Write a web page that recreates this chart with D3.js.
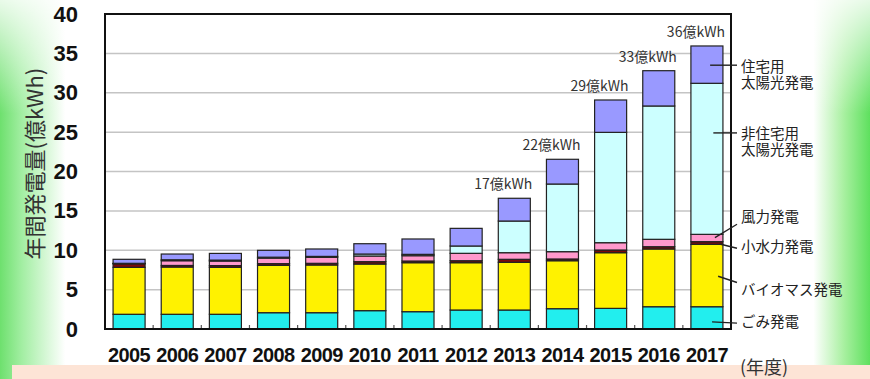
<!DOCTYPE html>
<html lang="ja">
<head>
<meta charset="utf-8">
<script src="https://cdn.jsdelivr.net/npm/d3@7"></script>
<style>
  body { margin: 0; background: #fff; }
  svg { display: block; font-family: "Liberation Sans", Arial, sans-serif; }
  .jp { font-family: "Noto Sans CJK JP", sans-serif; }
</style>
</head>
<body>
<div id="chart"></div>
<script>
// data (億kWh)
const years = ["2005","2006","2007","2008","2009","2010","2011","2012","2013","2014","2015","2016","2017"];
const gomi   = [1.87, 1.87, 1.87, 2.07, 2.07, 2.33, 2.20, 2.41, 2.41, 2.58, 2.62, 2.83, 2.83];
const bio    = [5.96, 6.00, 5.96, 6.01, 6.06, 5.92, 6.22, 6.01, 6.06, 6.09, 7.07, 7.33, 7.92];
const hydro  = [0.45, 0.20, 0.22, 0.22, 0.21, 0.30, 0.21, 0.25, 0.38, 0.22, 0.34, 0.29, 0.34];
const wind   = [0.03, 0.60, 0.58, 0.70, 0.76, 0.72, 0.68, 0.94, 0.84, 0.93, 0.93, 0.94, 0.93];
const nonres = [0.03, 0.12, 0.12, 0.12, 0.12, 0.25, 0.17, 0.93, 4.02, 8.59, 14.01, 16.93, 19.18];
const res    = [0.51, 0.73, 0.85, 0.87, 0.94, 1.31, 1.95, 2.24, 2.89, 3.14, 4.11, 4.48, 4.74];
const totalLabels = [null, null, null, null, null, null, null, null, 17, 22, 29, 33, 36];
const yTicks = [0, 5, 10, 15, 20, 25, 30, 35, 40];

const seriesKeys = ["gomi", "bio", "hydro", "wind", "nonres", "res"];
const seriesNames = [["ごみ発電"], ["バイオマス発電"], ["小水力発電"], ["風力発電"], ["非住宅用", "太陽光発電"], ["住宅用", "太陽光発電"]];
const seriesColors = ["#22eeee", "#fff200", "#7a0a0a", "#ff99cc", "#ccffff", "#9999ff"];

const width = 870,
  height = 379,
  margin = { top: 14, right: 139, bottom: 50, left: 105 };

const table = years.map((year, i) => ({
  year,
  gomi: gomi[i], bio: bio[i], hydro: hydro[i],
  wind: wind[i], nonres: nonres[i], res: res[i],
  label: totalLabels[i],
}));

const svg = d3.select("#chart")
  .append("svg")
  .attr("width", width)
  .attr("height", height);

// background: green fade at the edges
const defs = svg.append("defs");
const bgH = defs.append("linearGradient").attr("id", "bgH");
[[0, "#6ee06e"], [0.025, "#a2eea2"], [0.075, "#ffffff"], [0.935, "#ffffff"], [0.97, "#a8f0a0"], [1, "#5ee05e"]]
  .forEach(([o, c]) => bgH.append("stop").attr("offset", o).attr("stop-color", c));
const bgV = defs.append("linearGradient").attr("id", "bgV").attr("x2", 0).attr("y2", 1);
[[0, 0.85], [0.3, 0]].forEach(([o, a]) =>
  bgV.append("stop").attr("offset", o).attr("stop-color", "#fff").attr("stop-opacity", a));

svg.append("rect").attr("width", width).attr("height", height).attr("fill", "url(#bgH)");
svg.append("rect").attr("width", width).attr("height", height).attr("fill", "url(#bgV)");
svg.append("rect").attr("x", 12).attr("y", 365).attr("width", width - 12).attr("height", 14).attr("fill", "#fde4d6");

const x = d3.scaleBand()
  .domain(years)
  .range([margin.left, width - margin.right])
  .paddingInner(0.335)
  .paddingOuter(0.1675);

const y = d3.scaleLinear()
  .domain([0, 40])
  .range([height - margin.bottom, margin.top]);

// plot background
svg.append("rect")
  .attr("x", margin.left).attr("y", margin.top)
  .attr("width", width - margin.left - margin.right)
  .attr("height", height - margin.top - margin.bottom)
  .attr("fill", "#fff");

// gridlines
svg.append("g")
  .selectAll("line")
  .data(yTicks.slice(1, -1))
  .join("line")
  .attr("x1", margin.left).attr("x2", width - margin.right)
  .attr("y1", d => y(d)).attr("y2", d => y(d))
  .attr("stroke", "#c4c4c4")
  .attr("stroke-width", 1.5);

// stacked bars
const stacked = d3.stack().keys(seriesKeys)(table);
svg.append("g")
  .selectAll("g")
  .data(stacked)
  .join("g")
  .attr("fill", (d, i) => seriesColors[i])
  .selectAll("rect")
  .data(d => d)
  .join("rect")
  .attr("x", d => x(d.data.year))
  .attr("width", x.bandwidth())
  .attr("y", d => y(d[1]))
  .attr("height", d => y(d[0]) - y(d[1]))
  .attr("stroke", "#222")
  .attr("stroke-width", 1.2);

// total labels
svg.append("g")
  .selectAll("text")
  .data(table.filter(d => d.label !== null))
  .join("text")
  .attr("class", "jp")
  .attr("x", d => x(d.year) + x.bandwidth() + 2)
  .attr("y", d => y(d.gomi + d.bio + d.hydro + d.wind + d.nonres + d.res) - 9)
  .attr("text-anchor", "end")
  .attr("font-size", 14)
  .attr("fill", "#333")
  .text(d => `${d.label}億kWh`);

// small ticks between categories on the bottom
svg.append("g")
  .selectAll("line")
  .data(years.slice(1))
  .join("line")
  .attr("x1", d => x(d) - x.step() * x.paddingInner() / 2)
  .attr("x2", d => x(d) - x.step() * x.paddingInner() / 2)
  .attr("y1", y(0)).attr("y2", y(0) - 4)
  .attr("stroke", "#555")
  .attr("stroke-width", 1.2);

// frame
svg.append("rect")
  .attr("x", margin.left).attr("y", margin.top)
  .attr("width", width - margin.left - margin.right)
  .attr("height", height - margin.top - margin.bottom)
  .attr("fill", "none")
  .attr("stroke", "#111")
  .attr("stroke-width", 2);

// axes
const yAxis = d3.axisLeft(y).tickValues(yTicks).tickSize(0).tickPadding(27);
svg.append("g")
  .attr("transform", `translate(${margin.left},0)`)
  .call(yAxis)
  .call(g => g.select(".domain").remove())
  .selectAll("text")
  .attr("font-size", 22)
  .attr("font-weight", "bold")
  .attr("fill", "#111")
  .attr("font-family", "Liberation Sans, Arial, sans-serif");

const xAxis = d3.axisBottom(x).tickSize(0).tickPadding(19);
svg.append("g")
  .attr("transform", `translate(0,${y(0)})`)
  .call(xAxis)
  .call(g => g.select(".domain").remove())
  .selectAll("text")
  .attr("font-size", 20)
  .attr("font-weight", "bold")
  .attr("letter-spacing", "-0.6px")
  .attr("fill", "#111")
  .attr("font-family", "Liberation Sans, Arial, sans-serif");

// axis titles
svg.append("text")
  .attr("class", "jp")
  .attr("transform", `translate(33,${y(21)}) rotate(-90)`)
  .attr("text-anchor", "middle")
  .attr("dominant-baseline", "central")
  .attr("font-size", 22)
  .attr("fill", "#333")
  .text("年間発電量(億kWh)");

svg.append("text")
  .attr("class", "jp")
  .attr("x", 740).attr("y", 366)
  .attr("dominant-baseline", "central")
  .attr("font-size", 18)
  .attr("fill", "#333")
  .text("(年度)");

// legend with leader lines to the last bar
const last = years[years.length - 1];
const legendLayout = [
  { from: [0.66, 0.9], to: 0.75, label: 0.9 },
  { from: [0.85, 6.7], to: 5.9, label: 4.95 },
  { from: [0.9, 10.8], to: 10.25, label: 10.4 },
  { from: [0.75, 11.6], to: 13.3, label: 14.2 },
  { from: [0.7, 24.9], to: 24.9, label: 24.8 },
  { from: [0.6, 33.5], to: 33.5, label: 33.3 },
];
const leg = svg.append("g");
leg.selectAll("line")
  .data(legendLayout)
  .join("line")
  .attr("x1", d => x(last) + x.bandwidth() * d.from[0])
  .attr("y1", d => y(d.from[1]))
  .attr("x2", 737)
  .attr("y2", d => y(d.to))
  .attr("stroke", "#222")
  .attr("stroke-width", 1.4);

leg.selectAll("text")
  .data(legendLayout)
  .join("text")
  .attr("class", "jp")
  .attr("x", 741)
  .attr("y", d => y(d.label))
  .attr("font-size", 14.5)
  .attr("fill", "#222")
  .each(function(d, i) {
    d3.select(this).selectAll("tspan")
      .data(seriesNames[i])
      .join("tspan")
      .attr("x", 741)
      .attr("dy", (t, j) => j === 0 ? "0.35em" : "1.12em")
      .text(t => t);
  });
</script>
</body>
</html>
